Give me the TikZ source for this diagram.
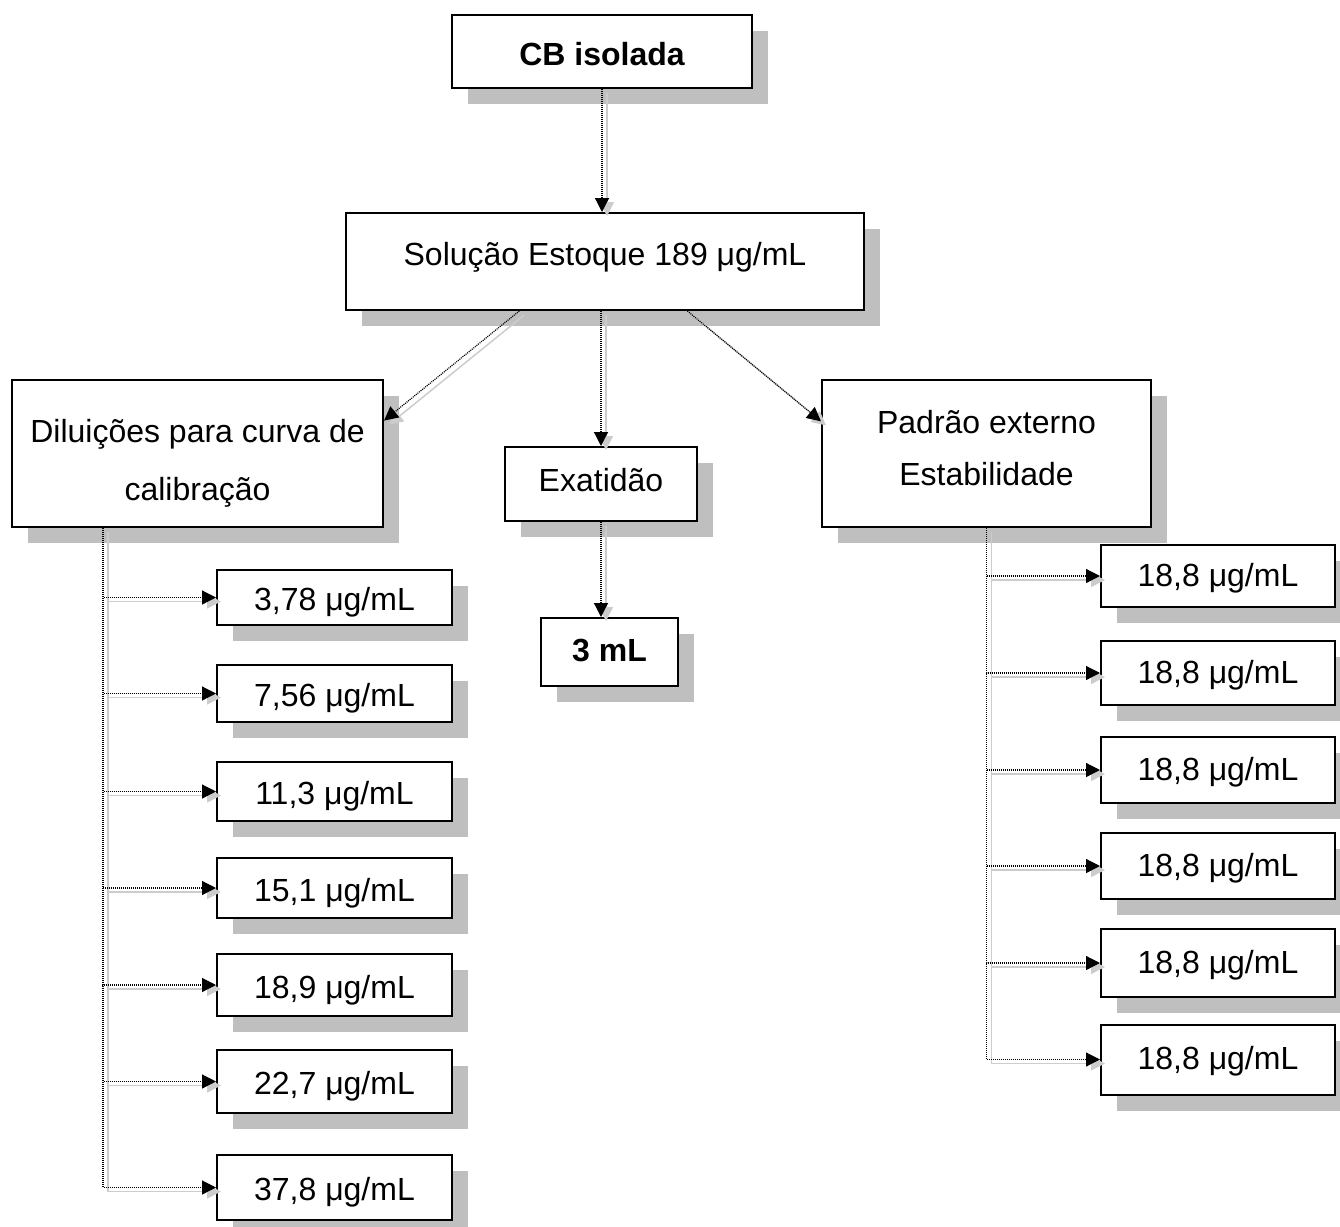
\documentclass[tikz,border=0pt]{standalone}
\usepackage{fontspec}
\setmainfont{Liberation Sans}
\usetikzlibrary{arrows.meta,shadows}

\begin{document}
\begin{tikzpicture}
  [x=0.5pt,y=-0.5pt,
   every node/.style={font=\fontsize{16}{19}\selectfont},
   box/.style={draw,line width=1pt,fill=white,
     drop shadow={shadow xshift=8pt,shadow yshift=-8pt,fill=gray!50,opacity=1}},
   dosebox/.style={box,minimum width=117.5pt,minimum height=#1},
   arrowline/.style={line width=0.6pt,dash pattern=on 0.5pt off 0.5pt,
     -{Triangle[length=7pt,width=7pt]}},
   arrowshadow/.style={draw=gray!40,line width=0.75pt,
     -{Triangle[length=7pt,width=7pt]},
     transform canvas={shift={(2.5pt,-2pt)}}}]
  \useasboundingbox (0,0) rectangle (1340,1227);

  \node (cb)[box,minimum width=150pt,minimum height=36.5pt,text height=14pt,text depth=0pt,
    font=\fontsize{16}{19}\selectfont\bfseries] at (602,51.5) {CB isolada};
  \node (sol)[box,minimum width=259pt,minimum height=48.5pt,text height=11.5pt,text depth=7.5pt]
    at (605,261.5) {Solução Estoque 189 μg/mL};
  \node (dil)[box,minimum width=185.5pt,minimum height=73.5pt,align=center,
    font=\fontsize{16}{29}\selectfont] at (197.5,453.5)
    {\rule{0pt}{22pt}Diluições para curva de\\calibração\rule[-4pt]{0pt}{4pt}};
  \node (exa)[box,minimum width=96pt,minimum height=37pt,text height=11.5pt,text depth=4pt]
    at (601,484) {Exatidão};
  \node (ml)[box,minimum width=68.5pt,minimum height=34pt,text height=11.5pt,text depth=2.5pt,
    font=\fontsize{16}{19}\selectfont\bfseries] at (609.5,652) {3 mL};
  \node (pad)[box,minimum width=164.5pt,minimum height=73.5pt,align=center,
    font=\fontsize{16}{25.75}\selectfont] at (986.5,453.5)
    {\rule{0pt}{15pt}Padrão externo\\Estabilidade\rule[-9pt]{0pt}{9pt}};

  % curva de calibracao
  \foreach \i/\y/\h/\val in {1/597.5/27.5pt/{3,78},2/693.5/28.5pt/{7,56},3/791.5/29.5pt/{11,3},
      4/888/30pt/{15,1},5/985/31pt/{18,9},6/1081.5/31.5pt/{22,7},7/1187.5/32.5pt/{37,8}}
    \node (l\i)[dosebox=\h,text height=13pt,text depth=0pt] at (334.5,\y) {\val\ μg/mL};

  % padrao externo
  \foreach \i/\y/\h in {1/576/31.25pt,2/673/32pt,3/770/33pt,4/866/33pt,5/963/34.25pt,6/1059.5/35pt}
    \node (r\i)[box,minimum width=117pt,minimum height=\h,text height=11.5pt,text depth=1.5pt]
      at (1218,\y) {18,8 μg/mL};

  \coordinate (lbus) at (103,0);

  \foreach \s in {arrowshadow,arrowline} {
    \draw[\s] (cb.south) -- (cb.south |- sol.north);
    \draw[\s] (sol.210) -- (dil.10);
    \draw[\s] (sol.south -| exa.north) -- (exa.north);
    \draw[\s] (sol.329) -- (pad.169);
    \draw[\s] (exa.south) -- (exa.south |- ml.north);
    \foreach \i in {1,...,7}
      \draw[\s] (dil.south -| lbus) |- (l\i.west);
    \foreach \i in {1,...,6}
      \draw[\s] (pad.south) |- (r\i.west);
  }
\end{tikzpicture}
\end{document}
